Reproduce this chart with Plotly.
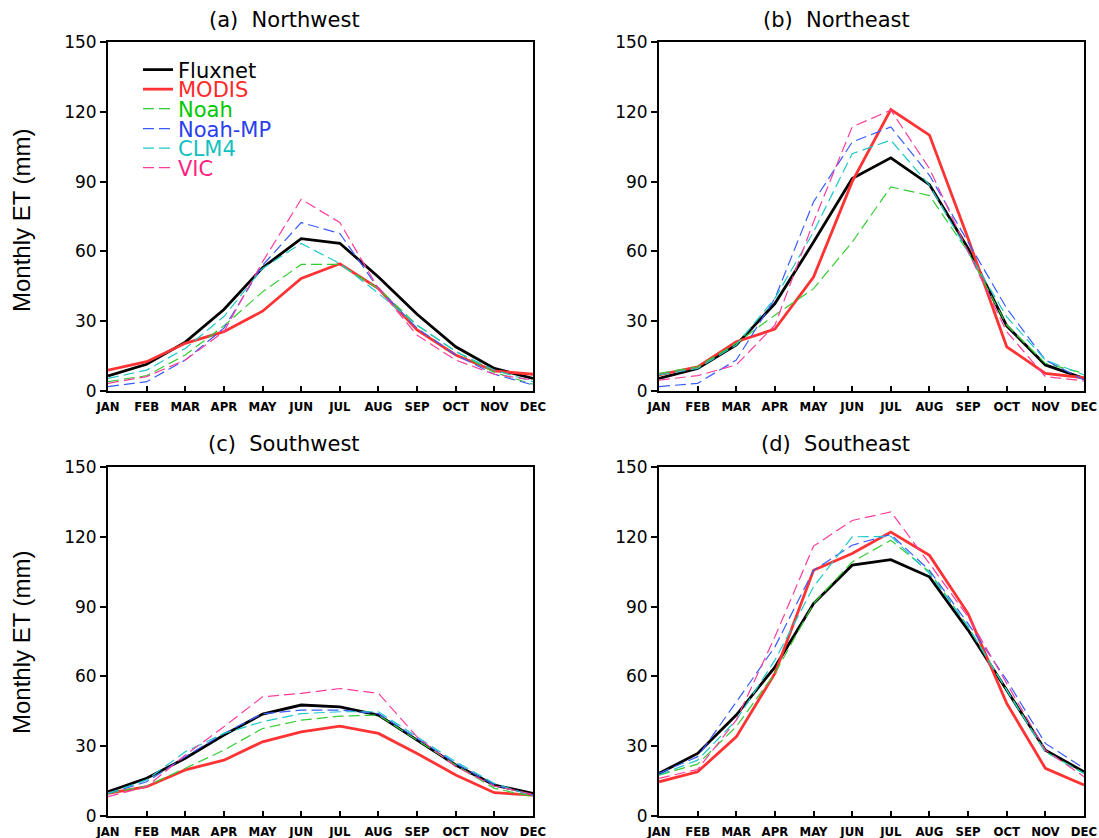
import plotly.graph_objects as go

# Monthly ET (mm) for four regions, Fluxnet vs MODIS vs four land surface models
months = ["JAN", "FEB", "MAR", "APR", "MAY", "JUN", "JUL", "AUG", "SEP", "OCT", "NOV", "DEC"]
series_names = ["Fluxnet", "MODIS", "Noah", "Noah-MP", "CLM4", "VIC"]

nw_fluxnet = [6.5, 11.5, 21, 35, 53, 65.5, 63.5, 49, 33, 19, 9.7, 5.4]
nw_modis = [9, 12.6, 20.5, 25.5, 34.3, 48.4, 54.7, 44, 26.2, 15.5, 8.6, 7.2]
nw_noah = [4, 6.6, 15.5, 28, 42.6, 54.4, 54.4, 44, 28.3, 17, 8, 2.9]
nw_noahmp = [1.9, 4, 13.3, 27, 54, 72.4, 67.7, 44, 27, 15.5, 7.2, 2.6]
nw_clm4 = [5.4, 9, 18.3, 32, 52.7, 63.4, 54.8, 42, 28.3, 17, 9, 4]
nw_vic = [3.3, 6.2, 13.3, 25.5, 55.5, 82.4, 72.4, 44, 24, 13.3, 7.2, 4.7]

ne_fluxnet = [5.4, 9.7, 19.8, 37.6, 64, 91.3, 100.2, 88.7, 61.3, 28, 11.2, 5.4]
ne_modis = [6.9, 10.4, 21.2, 26.6, 49, 90, 121, 110, 65.5, 19, 7.6, 5.7]
ne_noah = [7.6, 10.4, 20.5, 32.6, 44, 64, 87.7, 84, 59.8, 28.3, 11.9, 7.6]
ne_noahmp = [1.9, 3.3, 13.3, 39.8, 81.3, 107, 113.5, 92.7, 64, 35.5, 13.3, 4.7]
ne_clm4 = [6.9, 9.7, 19.8, 39.8, 68.4, 102, 107.8, 88.4, 59.8, 31.9, 13.3, 6.9]
ne_vic = [4.7, 6.6, 11.2, 28.3, 72.7, 113.5, 120.7, 95.6, 59.8, 25.5, 6.2, 4.3]

sw_fluxnet = [10.4, 16.2, 24.8, 34.8, 43.8, 47.7, 46.9, 43.4, 32.6, 21.9, 13.3, 9.7]
sw_modis = [9.7, 12.6, 19.8, 24, 31.9, 36.2, 38.6, 35.5, 26.9, 17.6, 10, 9]
sw_noah = [9.7, 12.9, 20.5, 28.3, 37.6, 41.2, 42.9, 43.4, 32.6, 21.9, 11.9, 8.3]
sw_noahmp = [9.7, 14.7, 25.5, 35.5, 44, 45.5, 45.5, 44, 33.3, 22.6, 13.3, 9]
sw_clm4 = [9.7, 15.5, 27.6, 35.5, 40.5, 44, 44.8, 44.8, 34, 23.3, 14, 8.6]
sw_vic = [8.3, 12.6, 26.2, 38.4, 51.2, 52.7, 54.8, 52.7, 34, 21.2, 12.9, 9.4]

se_fluxnet = [18.3, 26.9, 43.4, 64, 91.3, 107.8, 110.2, 102.8, 79.9, 54.1, 28.3, 19]
se_modis = [14.7, 19, 34, 61.3, 105.6, 112.8, 122, 112, 87, 48.4, 20.5, 13.3]
se_noah = [17.6, 22.3, 38.4, 61.3, 91.3, 109.2, 118.5, 105, 81.3, 54.1, 27.6, 18.3]
se_noahmp = [18.3, 25.5, 49, 72.7, 105.6, 116.4, 121, 105.6, 82.7, 58.4, 31.2, 20.5]
se_clm4 = [17.6, 24, 41.2, 67, 98.5, 120, 120.2, 104.2, 81.3, 54.1, 27.6, 18.3]
se_vic = [16.2, 20, 41.2, 77, 116, 127, 130.7, 108.5, 85.6, 57, 28.3, 16.9]

panel_titles = ["(a)  Northwest", "(b)  Northeast", "(c)  Southwest", "(d)  Southeast"]
y_ticks = [0, 30, 60, 90, 120, 150]

panels = [
    [nw_fluxnet, nw_modis, nw_noah, nw_noahmp, nw_clm4, nw_vic],
    [ne_fluxnet, ne_modis, ne_noah, ne_noahmp, ne_clm4, ne_vic],
    [sw_fluxnet, sw_modis, sw_noah, sw_noahmp, sw_clm4, sw_vic],
    [se_fluxnet, se_modis, se_noah, se_noahmp, se_clm4, se_vic],
]

# line styles per series
line_colors = ["#000000", "#ff3333", "#33cc33", "#3a5cff", "#1ec8c8", "#ff3c9c"]
text_colors = ["#000000", "#ff2a2a", "#00c800", "#2a40f0", "#10c0c0", "#ff1f7f"]
line_widths = [2.8, 2.8, 1.2, 1.2, 1.2, 1.2]
line_dashes = ["solid", "solid", "11px,5px", "11px,5px", "11px,5px", "11px,5px"]

W, H = 1099, 838
# plot-area pixel boxes (left, right, top, bottom)
boxes = [(108, 533, 42, 391), (659, 1084, 42, 391), (108, 533, 467, 816), (659, 1084, 467, 816)]

fig = go.Figure()
legend_keys = ["legend", "legend2", "legend3", "legend4", "legend5", "legend6"]

for p, (data, box) in enumerate(zip(panels, boxes)):
    xa = "x" if p == 0 else f"x{p + 1}"
    ya = "y" if p == 0 else f"y{p + 1}"
    for s in range(6):
        fig.add_trace(go.Scatter(
            x=months, y=data[s], mode="lines", name=series_names[s],
            line=dict(color=line_colors[s], width=line_widths[s], dash=line_dashes[s]),
            xaxis=xa, yaxis=ya,
            showlegend=(p == 0), legend=legend_keys[s],
        ))

tick_font = dict(family="DejaVu Sans", size=17, color="black")
month_font = dict(family="DejaVu Sans Condensed, DejaVu Sans", size=13, color="black", weight="bold")

layout = dict(
    width=W, height=H, margin=dict(l=0, r=0, t=0, b=0, autoexpand=False),
    paper_bgcolor="white", plot_bgcolor="white",
)
for p, box in enumerate(boxes):
    l, r, t, b = box
    sx = "xaxis" if p == 0 else f"xaxis{p + 1}"
    sy = "yaxis" if p == 0 else f"yaxis{p + 1}"
    ya = "y" if p == 0 else f"y{p + 1}"
    xa = "x" if p == 0 else f"x{p + 1}"
    layout[sx] = dict(
        domain=[l / W, r / W], anchor=ya, range=[0, 11], type="category",
        tickmode="array", tickvals=months, ticktext=months,
        ticks="inside", ticklen=5, tickwidth=1.5, tickcolor="black",
        showline=True, linecolor="black", linewidth=1.8, mirror=True,
        showgrid=False, zeroline=False, tickfont=month_font, automargin=False,
        ticklabelstandoff=2,
    )
    layout[sy] = dict(
        domain=[1 - b / H, 1 - t / H], anchor=xa, range=[0, 150],
        tickvals=y_ticks, ticks="outside", ticklen=6, tickwidth=1.5, tickcolor="black",
        showline=True, linecolor="black", linewidth=1.8, mirror=True,
        showgrid=False, zeroline=False, tickfont=tick_font, automargin=False,
    )

# one legend per series so each label can carry its own colour
legend_rows = [70, 89.5, 109, 129, 148.5, 168]
for s, key in enumerate(legend_keys):
    layout[key] = dict(
        x=138 / W, y=1 - legend_rows[s] / H, xanchor="left", yanchor="middle",
        bgcolor="rgba(0,0,0,0)", borderwidth=0,
        font=dict(family="DejaVu Sans", size=21, color=text_colors[s]),
        itemwidth=30, tracegroupgap=0,
    )

fig.update_layout(**layout)

annotations = []
title_pos = [(284, 20), (836, 20), (284, 444), (835, 444)]
for txt, (cx, cy) in zip(panel_titles, title_pos):
    annotations.append(dict(
        text=txt, x=cx / W, y=1 - cy / H, xref="paper", yref="paper",
        xanchor="center", yanchor="middle", showarrow=False,
        font=dict(family="DejaVu Sans", size=21, color="black"),
    ))
for cy in (220, 642):
    annotations.append(dict(
        text="Monthly ET (mm)", x=21 / W, y=1 - cy / H, xref="paper", yref="paper",
        xanchor="center", yanchor="middle", showarrow=False, textangle=-90,
        font=dict(family="Liberation Sans, Arial", size=24, color="black"),
    ))
fig.update_layout(annotations=annotations)

fig.write_html("out.html")
